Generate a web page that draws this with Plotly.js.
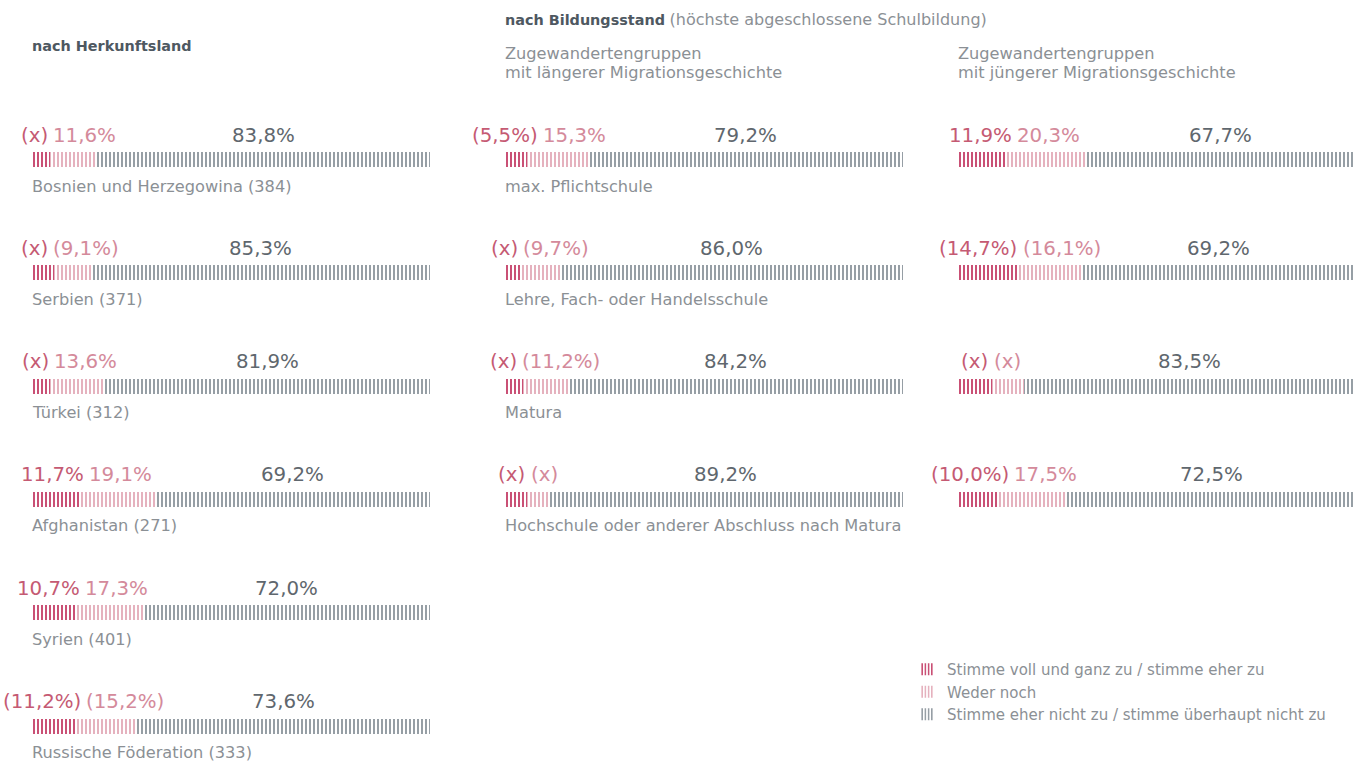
<!DOCTYPE html>
<html><head><meta charset="utf-8">
<script src="https://cdn.plot.ly/plotly-3.0.1.min.js"></script>
<style>html,body{margin:0;padding:0;background:#fff}#chart{width:1355px;height:763px}</style>
</head><body><div id="chart"></div>
<script>
// ---- Data: nach Herkunftsland ----
const countries = ['Bosnien und Herzegowina (384)', 'Serbien (371)', 'Türkei (312)', 'Afghanistan (271)', 'Syrien (401)', 'Russische Föderation (333)'];
const countryAgree = [4.6, 5.6, 4.5, 11.7, 10.7, 11.2];
const countryNeither = [11.6, 9.1, 13.6, 19.1, 17.3, 15.2];
const countryDisagree = [83.8, 85.3, 81.9, 69.2, 72.0, 73.6];
const countryAgreeLabels = ['(x)', '(x)', '(x)', '11,7%', '10,7%', '(11,2%)'];
const countryNeitherLabels = ['11,6%', '(9,1%)', '13,6%', '19,1%', '17,3%', '(15,2%)'];
const countryDisagreeLabels = ['83,8%', '85,3%', '81,9%', '69,2%', '72,0%', '73,6%'];

// ---- Data: nach Bildungsstand, längere Migrationsgeschichte ----
const eduLevels = ['max. Pflichtschule', 'Lehre, Fach- oder Handelsschule', 'Matura', 'Hochschule oder anderer Abschluss nach Matura'];
const olderAgree = [5.5, 4.3, 4.6, 5.6];
const olderNeither = [15.3, 9.7, 11.2, 5.2];
const olderDisagree = [79.2, 86.0, 84.2, 89.2];
const olderAgreeLabels = ['(5,5%)', '(x)', '(x)', '(x)'];
const olderNeitherLabels = ['15,3%', '(9,7%)', '(11,2%)', '(x)'];
const olderDisagreeLabels = ['79,2%', '86,0%', '84,2%', '89,2%'];

// ---- Data: nach Bildungsstand, jüngere Migrationsgeschichte ----
const newerAgree = [11.9, 14.7, 8.5, 10.0];
const newerNeither = [20.3, 16.1, 8.0, 17.5];
const newerDisagree = [67.7, 69.2, 83.5, 72.5];
const newerAgreeLabels = ['11,9%', '(14,7%)', '(x)', '(10,0%)'];
const newerNeitherLabels = ['20,3%', '(16,1%)', '(x)', '17,5%'];
const newerDisagreeLabels = ['67,7%', '69,2%', '83,5%', '72,5%'];

const seriesNames = ['Stimme voll und ganz zu / stimme eher zu', 'Weder noch', 'Stimme eher nicht zu / stimme überhaupt nicht zu'];

// ---- Styles ----
const W = 1355, H = 763;
const FONT = 'DejaVu Sans';
const stripeColors = ['#c43d66', '#e3a9b7', '#8b949b'];
const labelColors = ['#c55a73', '#d48a9b', '#5f676e'];
const greyText = '#8b9095';
const headColor = '#4e5861';
const rowTop = 159.5, rowGap = 113.3, barPx = 15;
const pxPerPct = 3.98;
const valSize = 19.8, catSize = 16.2, headSize = 14.4, subSize = 16.2;

const cols = [
  {xa: 'x', names: countries, vals: [countryAgree, countryNeither, countryDisagree], labels: [countryAgreeLabels, countryNeitherLabels, countryDisagreeLabels], legend: true},
  {xa: 'x2', names: eduLevels, vals: [olderAgree, olderNeither, olderDisagree], labels: [olderAgreeLabels, olderNeitherLabels, olderDisagreeLabels], legend: false},
  {xa: 'x3', names: null, vals: [newerAgree, newerNeither, newerDisagree], labels: [newerAgreeLabels, newerNeitherLabels, newerDisagreeLabels], legend: false}
];

const canvas = document.createElement('canvas');
const ctx = canvas.getContext('2d');
function tw(s, size) { ctx.font = size + 'px "' + FONT + '"'; return ctx.measureText(s).width; }

const traces = [];
const annotations = [];
cols.forEach(col => {
  const n = col.vals[0].length;
  const ys = col.vals[0].map((_, i) => i);
  for (let k = 0; k < 3; k++) {
    traces.push({
      type: 'bar', orientation: 'h', xaxis: col.xa, yaxis: 'y',
      x: col.vals[k], y: ys, width: barPx / rowGap,
      name: seriesNames[k], showlegend: col.legend, legendrank: k,
      marker: {color: '#ffffff', line: {width: 0},
        pattern: {shape: '|', fgcolor: stripeColors[k], bgcolor: '#ffffff', size: 4, solidity: 0.45, fillmode: 'replace'}},
      hoverinfo: 'skip'
    });
  }
  for (let i = 0; i < n; i++) {
    let cum = 0;
    const items = [];
    for (let k = 0; k < 3; k++) {
      const v = col.vals[k][i];
      const c = cum + v / 2;
      cum += v;
      const txt = col.labels[k][i];
      items.push({x: c, px: c * pxPerPct, w: tw(txt, valSize), txt: txt, k: k, shift: 0});
    }
    // avoid overlap between neighbouring labels
    for (let k = 0; k < 2; k++) {
      const a = items[k], b = items[k + 1];
      const ov = (a.px + a.shift + a.w / 2 + 5) - (b.px + b.shift - b.w / 2);
      if (ov > 0) { a.shift -= ov * 0.4; b.shift += ov * 0.6; }
    }
    items.forEach(it => {
      annotations.push({xref: col.xa, yref: 'y', x: it.x, y: i, xshift: it.shift, yshift: 24.5,
        text: it.txt, showarrow: false, xanchor: 'center', yanchor: 'middle',
        font: {family: FONT, size: valSize, color: labelColors[it.k]}});
    });
    if (col.names) {
      annotations.push({xref: col.xa, yref: 'y', x: 0, y: i, xshift: -2, yshift: -26.5, text: col.names[i],
        showarrow: false, xanchor: 'left', yanchor: 'middle', font: {family: FONT, size: catSize, color: greyText}});
    }
  }
});

function py(p) { return 1 - p / H; }
function pxp(p) { return p / W; }
function headAnn(x, y, text, size, color) {
  return {xref: 'paper', yref: 'paper', x: pxp(x), y: py(y), xshift: -2, xanchor: 'left', yanchor: 'middle',
    showarrow: false, align: 'left', text: text, font: {family: FONT, size: size, color: color}};
}
annotations.push(
  headAnn(32, 46, '<b>nach Herkunftsland</b>', headSize, headColor),
  headAnn(505, 19, '<b>nach Bildungsstand</b> <span style="color:' + greyText + ';font-size:16px">(höchste abgeschlossene Schulbildung)</span>', headSize, headColor),
  headAnn(505, 54, 'Zugewandertengruppen', subSize, greyText),
  headAnn(505, 73, 'mit längerer Migrationsgeschichte', subSize, greyText),
  headAnn(958, 54, 'Zugewandertengruppen', subSize, greyText),
  headAnn(958, 73, 'mit jüngerer Migrationsgeschichte', subSize, greyText)
);

const axBase = {showgrid: false, zeroline: false, showticklabels: false, showline: false, ticks: '', fixedrange: true, anchor: 'y'};
const layout = {
  width: W, height: H, margin: {l: 0, r: 0, t: 0, b: 0},
  paper_bgcolor: '#ffffff', plot_bgcolor: '#ffffff',
  barmode: 'stack', bargap: 0,
  xaxis: Object.assign({}, axBase, {domain: [pxp(32), pxp(430)], range: [0, 100]}),
  xaxis2: Object.assign({}, axBase, {domain: [pxp(505), pxp(903)], range: [0, 100]}),
  xaxis3: Object.assign({}, axBase, {domain: [pxp(958), 1], range: [0, (W - 958) / pxPerPct]}),
  yaxis: {showgrid: false, zeroline: false, showticklabels: false, ticks: '', fixedrange: true,
    range: [(H - rowTop) / rowGap, -rowTop / rowGap], domain: [0, 1]},
  showlegend: true,
  legend: {x: pxp(907), y: py(653), xanchor: 'left', yanchor: 'top', traceorder: 'normal',
    font: {family: FONT, size: 15, color: greyText}, bgcolor: 'rgba(0,0,0,0)', tracegroupgap: 0},
  annotations: annotations
};
Plotly.newPlot('chart', traces, layout, {displayModeBar: false, staticPlot: true});
</script>
</body></html>
